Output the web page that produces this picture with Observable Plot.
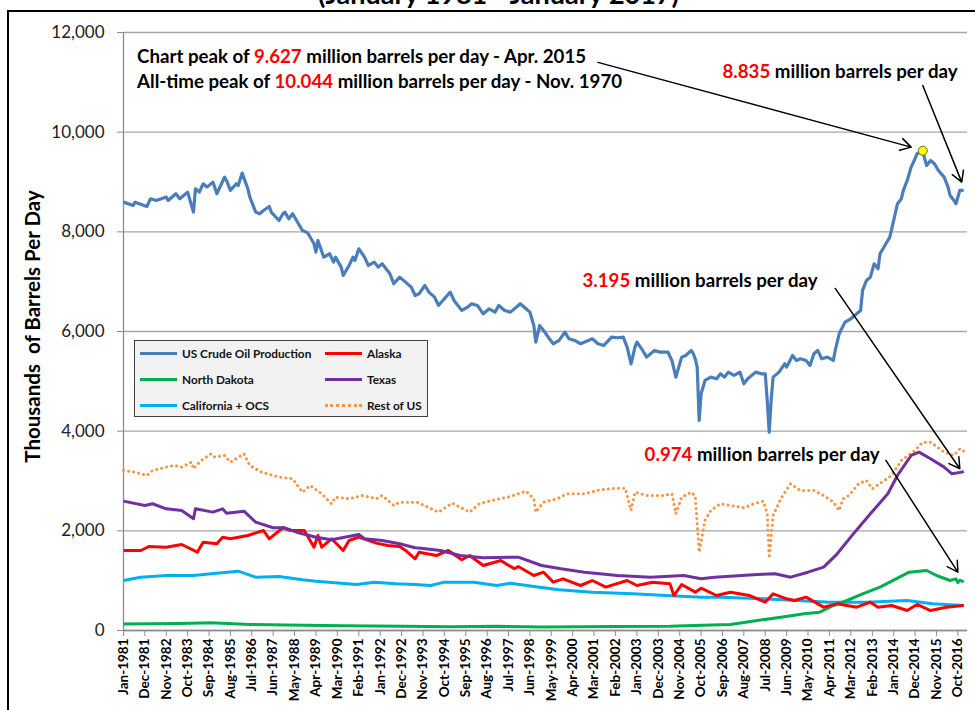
<!DOCTYPE html>
<html>
<head>
<meta charset="utf-8">
<script src="https://cdn.jsdelivr.net/npm/d3@7"></script>
<script src="https://cdn.jsdelivr.net/npm/@observablehq/plot@0.6"></script>
<style>
  html, body { margin: 0; padding: 0; background: #fff; }
  #wrap { position: relative; width: 975px; height: 710px; overflow: hidden; background: #fff; font-family: Lato, "Open Sans", sans-serif; }
  #border { position: absolute; left: 7px; top: 10px; width: 1200px; height: 900px; border-left: 2px solid #000; border-top: 2px solid #000; }
  #chart { position: absolute; left: 0; top: 0; }
  #legend { position: absolute; left: 134px; top: 340px; width: 292px; height: 75px; background: #f2f2f2; border: 1px solid #404040; }
  .li { position: absolute; height: 14px; display: flex; align-items: center; font-weight: bold; font-size: 11.8px; color: #111; white-space: nowrap; }
  .sw { width: 37px; height: 0; margin-right: 5px; }
</style>
</head>
<body>
<div id="wrap">
  <div id="border"></div>
  <div id="chart"></div>
  <div id="legend"></div>
</div>
<script>
// ---------- DATA (thousands of barrels per day) ----------
const chartTitle = "(January 1981 - January 2017)";
const yLabel = "Thousands  of Barrels Per Day";

const seriesNames = ["US Crude Oil Production", "Alaska", "North Dakota", "Texas", "California + OCS", "Rest of US"];
const seriesColors = ["#4a7ebb", "#ff0000", "#00b050", "#7030a0", "#00b0f0", "#f79646"];

const usCrude = [
  ["1981-01",8596],["1981-06",8529],["1981-07",8596],["1982-01",8509],["1982-03",8663],["1982-06",8630],
  ["1982-11",8697],["1982-12",8630],["1983-04",8764],["1983-06",8663],["1983-10",8797],["1984-01",8396],
  ["1984-02",8864],["1984-04",8797],["1984-06",8964],["1984-08",8897],["1984-11",8998],["1985-01",8764],
  ["1985-05",9098],["1985-06",9031],["1985-08",8831],["1985-11",8964],["1985-12",8931],["1986-02",9179],
  ["1986-05",8864],["1986-06",8697],["1986-09",8396],["1986-11",8362],["1987-01",8429],["1987-04",8509],
  ["1987-05",8396],["1987-09",8228],["1987-11",8362],["1987-12",8396],["1988-02",8262],["1988-04",8362],
  ["1988-09",8028],["1988-11",7994],["1988-12",7961],["1989-03",7760],["1989-04",7593],["1989-05",7827],
  ["1989-08",7492],["1989-11",7560],["1990-01",7392],["1990-02",7492],["1990-05",7292],["1990-06",7125],
  ["1990-09",7325],["1990-11",7492],["1990-12",7426],["1991-02",7660],["1991-05",7492],["1991-07",7325],
  ["1991-10",7392],["1991-12",7292],["1992-02",7359],["1992-06",7158],["1992-08",6957],["1992-11",7091],
  ["1993-02",6991],["1993-05",6890],["1993-07",6723],["1993-09",6757],["1993-12",6924],["1994-02",6790],
  ["1994-05",6690],["1994-07",6523],["1994-10",6656],["1995-01",6790],["1995-03",6623],["1995-07",6422],
  ["1995-10",6489],["1995-12",6556],["1996-03",6523],["1996-06",6355],["1996-09",6456],["1996-12",6389],
  ["1997-02",6523],["1997-05",6422],["1997-08",6389],["1997-11",6489],["1998-01",6556],["1998-04",6456],
  ["1998-06",6389],["1998-08",6121],["1998-09",5787],["1998-11",6121],["1999-01",6021],["1999-04",5854],
  ["1999-06",5754],["1999-09",5821],["1999-12",5987],["2000-02",5854],["2000-05",5821],["2000-08",5754],
  ["2000-12",5821],["2001-02",5854],["2001-05",5754],["2001-08",5720],["2001-12",5888],["2002-03",5874],
  ["2002-06",5888],["2002-08",5687],["2002-10",5352],["2002-12",5687],["2003-01",5787],["2003-04",5620],
  ["2003-06",5486],["2003-10",5620],["2004-01",5586],["2004-05",5586],["2004-07",5419],["2004-09",5084],
  ["2004-12",5486],["2005-02",5519],["2005-05",5620],["2005-06",5553],["2005-07",5450],["2005-08",5285],
  ["2005-09",4214],["2005-10",4750],["2005-12",5017],["2006-03",5084],["2006-06",5051],["2006-08",5151],
  ["2006-10",5084],["2006-12",5185],["2007-03",5118],["2007-06",5185],["2007-08",4951],["2007-10",5051],
  ["2008-02",5185],["2008-05",5151],["2008-07",5151],["2008-08",4616],["2008-09",3981],["2008-10",4616],
  ["2008-11",5084],["2009-02",5185],["2009-05",5352],["2009-06",5285],["2009-09",5519],["2009-11",5419],
  ["2010-01",5453],["2010-04",5419],["2010-06",5319],["2010-08",5553],["2010-10",5620],["2010-12",5453],
  ["2011-03",5486],["2011-06",5419],["2011-07",5620],["2011-09",5954],["2011-12",6188],["2012-03",6255],
  ["2012-06",6356],["2012-08",6423],["2012-09",6824],["2012-11",7024],["2013-01",7091],["2013-03",7359],
  ["2013-05",7259],["2013-06",7560],["2013-09",7761],["2013-11",7894],["2014-01",8229],["2014-03",8564],
  ["2014-05",8664],["2014-06",8831],["2014-08",9031],["2014-10",9299],["2014-12",9466],["2015-01",9567],
  ["2015-03",9600],["2015-04",9627],["2015-05",9466],["2015-06",9332],["2015-08",9433],["2015-10",9366],
  ["2015-12",9232],["2016-03",9098],["2016-05",8898],["2016-06",8731],["2016-08",8630],["2016-09",8564],
  ["2016-11",8831],["2017-01",8835]
];

const alaska = [
  ["1981-01",1606],["1981-10",1606],["1982-02",1686],["1982-11",1672],["1983-07",1726],["1984-03",1571],
  ["1984-06",1773],["1985-01",1740],["1985-04",1873],["1985-08",1840],["1986-05",1906],["1987-01",2007],
  ["1987-04",1840],["1987-11",2061],["1988-03",2007],["1988-10",2007],["1989-03",1672],["1989-05",1906],
  ["1989-07",1672],["1989-12",1840],["1990-06",1606],["1990-09",1806],["1991-02",1873],["1991-11",1753],
  ["1992-05",1706],["1992-11",1686],["1993-02",1606],["1993-07",1439],["1993-09",1571],["1994-06",1505],
  ["1994-12",1606],["1995-07",1419],["1995-11",1505],["1996-06",1305],["1997-03",1405],["1997-10",1238],
  ["1997-12",1284],["1998-08",1104],["1999-01",1170],["1999-06",970],["1999-11",1037],["2000-08",903],
  ["2001-02",1003],["2001-09",870],["2002-08",1003],["2003-01",903],["2003-09",970],["2004-06",936],
  ["2004-08",702],["2004-12",923],["2005-07",769],["2005-10",850],["2006-06",702],["2007-01",769],
  ["2007-11",702],["2008-07",569],["2008-11",736],["2009-06",636],["2009-10",602],["2010-04",669],
  ["2011-01",468],["2011-08",535],["2012-06",468],["2013-01",569],["2013-05",468],["2013-12",502],
  ["2014-08",401],["2015-01",522],["2015-08",401],["2016-04",468],["2017-01",502]
];

const northDakota = [
  ["1981-01",130],["1983-06",140],["1984-10",155],["1986-06",120],["1988-01",110],["1990-06",95],
  ["1993-01",85],["1995-01",75],["1997-01",85],["1999-01",70],["2002-01",80],["2004-06",85],
  ["2005-06",100],["2007-01",120],["2008-03",200],["2009-03",268],["2010-03",335],["2010-11",368],
  ["2011-06",502],["2012-01",602],["2012-09",736],["2013-06",870],["2013-11",970],["2014-04",1070],
  ["2014-09",1170],["2015-06",1204],["2015-11",1104],["2016-06",1003],["2016-09",1037],["2016-10",960],
  ["2016-11",1010],["2017-01",974]
];

const texas = [
  ["1981-01",2596],["1981-12",2509],["1982-04",2543],["1982-11",2442],["1983-07",2408],["1984-01",2242],
  ["1984-02",2442],["1984-11",2375],["1985-04",2442],["1985-06",2355],["1986-03",2395],["1986-09",2174],
  ["1987-06",2061],["1987-12",2061],["1988-06",1973],["1989-04",1872],["1989-12",1820],["1991-02",1927],
  ["1991-05",1840],["1992-02",1806],["1992-11",1740],["1993-07",1660],["1993-10",1650],["1994-08",1606],
  ["1995-06",1505],["1996-06",1459],["1997-12",1472],["1998-12",1305],["1999-10",1238],["2000-10",1170],
  ["2002-03",1104],["2003-08",1070],["2005-01",1104],["2005-10",1038],["2006-05",1070],["2008-03",1124],
  ["2008-12",1138],["2009-08",1070],["2010-05",1170],["2011-01",1271],["2011-08",1539],["2012-05",1973],
  ["2013-01",2342],["2013-10",2743],["2014-03",3111],["2014-10",3512],["2015-02",3579],["2015-08",3446],
  ["2016-03",3278],["2016-07",3145],["2016-12",3178],["2017-01",3195]
];

const californiaOCS = [
  ["1981-01",1003],["1981-10",1070],["1982-11",1104],["1984-01",1104],["1984-10",1138],["1985-12",1191],
  ["1986-09",1070],["1987-09",1084],["1988-09",1017],["1989-04",990],["1990-05",950],["1991-01",923],
  ["1991-10",970],["1992-09",936],["1993-07",923],["1994-03",903],["1994-10",970],["1996-01",970],
  ["1997-01",903],["1997-08",950],["1998-11",870],["1999-09",816],["2001-02",769],["2002-11",736],
  ["2004-04",702],["2005-10",669],["2006-08",669],["2008-06",636],["2009-11",602],["2011-04",569],
  ["2012-11",569],["2014-08",602],["2015-09",535],["2017-01",502]
];

const restOfUS = [
  ["1981-01",3211],["1981-07",3178],["1982-01",3111],["1982-04",3211],["1982-11",3278],["1983-03",3311],
  ["1983-07",3278],["1983-12",3378],["1984-01",3245],["1984-05",3412],["1984-10",3546],["1984-12",3479],
  ["1985-05",3512],["1985-08",3378],["1986-03",3546],["1986-06",3311],["1986-12",3178],["1987-09",3077],
  ["1988-04",3044],["1988-09",2776],["1989-01",2910],["1989-07",2743],["1989-12",2543],["1990-02",2676],
  ["1990-09",2643],["1991-04",2710],["1991-11",2643],["1992-02",2710],["1992-08",2509],["1992-11",2576],
  ["1993-08",2576],["1994-07",2375],["1995-02",2556],["1995-11",2375],["1996-04",2543],["1996-12",2623],
  ["1997-08",2690],["1998-04",2797],["1998-08",2643],["1998-09",2375],["1999-01",2576],["1999-08",2643],
  ["2000-01",2743],["2000-10",2743],["2001-06",2823],["2002-03",2856],["2002-07",2856],["2002-10",2408],
  ["2002-12",2776],["2003-06",2710],["2004-03",2710],["2004-07",2743],["2004-09",2342],["2004-12",2676],
  ["2005-05",2776],["2005-07",2700],["2005-09",1571],["2005-12",2208],["2006-03",2408],["2006-08",2543],
  ["2007-01",2509],["2007-08",2463],["2008-01",2543],["2008-06",2596],["2008-08",2342],["2008-09",1450],
  ["2008-11",2308],["2009-03",2643],["2009-08",2944],["2010-01",2810],["2010-08",2810],["2011-01",2710],
  ["2011-06",2576],["2011-09",2408],["2011-11",2643],["2012-02",2710],["2012-07",2944],["2012-11",3011],
  ["2013-02",2844],["2013-12",3111],["2014-05",3412],["2014-12",3613],["2015-04",3780],["2015-08",3780],
  ["2016-03",3579],["2016-08",3512],["2016-11",3646],["2017-01",3600]
];

const yTicks = [0, 2000, 4000, 6000, 8000, 10000, 12000];
const xTickLabels = ["Jan-1981","Dec-1981","Nov-1982","Oct-1983","Sep-1984","Aug-1985","Jul-1986","Jun-1987",
  "May-1988","Apr-1989","Mar-1990","Feb-1991","Jan-1992","Dec-1992","Nov-1993","Oct-1994","Sep-1995",
  "Aug-1996","Jul-1997","Jun-1998","May-1999","Apr-2000","Mar-2001","Feb-2002","Jan-2003","Dec-2003",
  "Nov-2004","Oct-2005","Sep-2006","Aug-2007","Jul-2008","Jun-2009","May-2010","Apr-2011","Mar-2012",
  "Feb-2013","Jan-2014","Dec-2014","Nov-2015","Oct-2016"];
const xDomain = ["1981-01", "2017-03"];

// Annotations
const annoDates = ["1981-08", "1981-08", "2006-09", "2000-09", "2003-05"];
const annoValues = [11500, 11000, 11200, 7005, 3512];
const annoPre = ["Chart peak of ", "All-time peak of ", "", "", ""];
const annoNum = ["9.627", "10.044", "8.835", "3.195", "0.974"];
const annoPost = [" million barrels per day - Apr. 2015", " million barrels per day - Nov. 1970",
  " million barrels per day", " million barrels per day", " million barrels per day"];

const arrowFrom = [["2001-05", 11400], ["2015-04", 10938], ["2011-07", 6864], ["2013-09", 3412]];
const arrowTo   = [["2014-10", 9700],  ["2016-12", 8998],  ["2016-11", 3245], ["2016-10", 1170]];

const peakPoint = ["2015-04", 9627];

// ---------- BUILD ----------
const parse = d3.utcParse("%Y-%m");
const parseTick = d3.utcParse("%b-%Y");
const toRows = arr => arr.map(([d, v]) => ({date: parse(d), value: v}));
const allSeries = [usCrude, alaska, northDakota, texas, californiaOCS, restOfUS].map(toRows);
const xTicks = xTickLabels.map(parseTick);

const annos = annoDates.map((d, i) => ({date: parse(d), value: annoValues[i], pre: annoPre[i], num: annoNum[i], post: annoPost[i], full: annoPre[i] + annoNum[i] + annoPost[i]}));
const arrows = arrowFrom.map((f, i) => ({x1: parse(f[0]), y1: f[1], x2: parse(arrowTo[i][0]), y2: arrowTo[i][1]}));

const lineMarks = allSeries.map((rows, i) => {
  const dotted = i === 5;
  return Plot.line(rows, {
    x: "date", y: "value", stroke: seriesColors[i],
    strokeWidth: dotted ? 3 : (i === 0 ? 3.2 : 3),
    strokeDasharray: dotted ? "0.1 5" : null,
    strokeLinecap: dotted ? "round" : "butt",
    strokeLinejoin: "round"
  });
});
// draw the lines in the same stacking order as the original
const order = [5, 4, 2, 1, 3, 0];

const chart = Plot.plot({
  width: 975, height: 710,
  marginLeft: 123, marginRight: 8, marginTop: 32, marginBottom: 80,
  style: {fontFamily: "Lato, 'Open Sans', sans-serif", background: "transparent", color: "#000"},
  x: {type: "utc", domain: xDomain.map(parse)},
  y: {domain: [0, 12000]},
  marks: [
    Plot.gridY(yTicks, {stroke: "#a6a6a6", strokeOpacity: 1, strokeWidth: 1.3}),
    Plot.ruleX([parse(xDomain[0])], {stroke: "#8c8c8c", strokeWidth: 1.3}),
    Plot.ruleY([0], {stroke: "#8c8c8c", strokeWidth: 1.3}),
    Plot.axisY(yTicks, {tickFormat: d3.format(","), fontSize: 17, tickSize: 6, tickPadding: 13, stroke: "#8c8c8c", fill: "#222", label: null}),
    Plot.axisX(xTicks, {tickFormat: d3.utcFormat("%b-%Y"), tickRotate: -90, fontSize: 13.5, fontWeight: "bold", tickSize: 6, tickPadding: 2, stroke: "#8c8c8c", fill: "#000", label: null}),
    Plot.text([yLabel], {text: d => d, frameAnchor: "left", dx: -90, dy: -5, rotate: -90, textAnchor: "middle", lineAnchor: "middle", fontWeight: "bold", fontSize: 20.5, fill: "#000"}),
    Plot.text([chartTitle], {text: d => d, frameAnchor: "top", dx: -47, dy: -37.6, textAnchor: "middle", lineAnchor: "middle", fontWeight: "bold", fontSize: 27, fill: "#000"}),
    ...order.map(i => lineMarks[i]),
    Plot.arrow(arrows, {x1: "x1", y1: "y1", x2: "x2", y2: "y2", stroke: "#000", strokeWidth: 1.5, headLength: 12, bend: 0}),
    Plot.dot([peakPoint], {x: d => parse(d[0]), y: d => d[1], r: 4.5, fill: "#ffff00", stroke: "#6b6b00", strokeWidth: 1}),
    Plot.text(annos, {x: "date", y: "value", text: "full", textAnchor: "start", lineAnchor: "middle", fontWeight: "bold", fontSize: 18.7, fill: "#000"})
  ]
});
document.getElementById("chart").appendChild(chart);

// colour the numbers of the annotations in red
d3.select(chart).selectAll("text").each(function () {
  const a = annos.find(a => a.full === this.textContent);
  if (!a) return;
  const t = d3.select(this);
  t.text(null);
  if (a.pre) t.append("tspan").text(a.pre);
  t.append("tspan").attr("fill", "#ff0000").text(a.num);
  t.append("tspan").text(a.post);
});

// legend
const legend = d3.select("#legend");
seriesNames.forEach((name, i) => {
  const col = i % 2, row = Math.floor(i / 2);
  const item = legend.append("div").attr("class", "li")
    .style("left", (col ? 190 : 5) + "px")
    .style("top", (row * 26 + 5) + "px");
  item.append("div").attr("class", "sw")
    .style("border-top", i === 5 ? `3px dotted ${seriesColors[i]}` : `3px solid ${seriesColors[i]}`);
  item.append("span").text(name);
});
</script>
</body>
</html>
